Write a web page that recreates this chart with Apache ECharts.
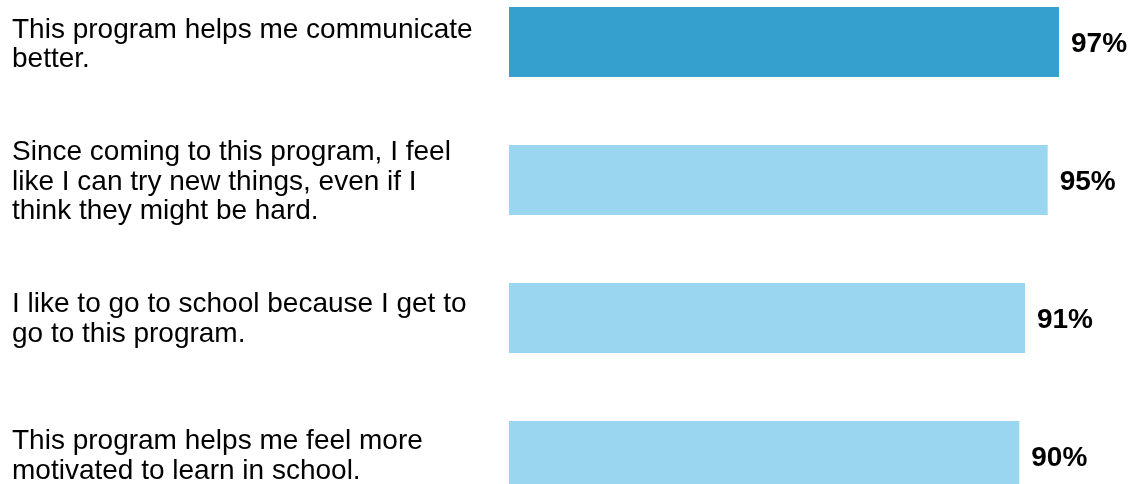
<!DOCTYPE html>
<html>
<head>
<meta charset="utf-8">
<style>html,body{margin:0;padding:0;background:#fff;overflow:hidden;width:1134px;height:484px;}#c{position:absolute;left:0;top:-27px;width:1134px;height:552px;}</style>
<script src="https://cdn.jsdelivr.net/npm/echarts@6/dist/echarts.min.js"></script>
</head>
<body>
<div id="c"></div>
<script>
const categories = [
  "This program helps me communicate\nbetter.",
  "Since coming to this program, I feel\nlike I can try new things, even if I\nthink they might be hard.",
  "I like to go to school because I get to\ngo to this program.",
  "This program helps me feel more\nmotivated to learn in school."
];
const values = [97, 95, 91, 90];
const barColors = ['#35A0CE', '#9BD6F1', '#9BD6F1', '#9BD6F1'];

const chart = echarts.init(document.getElementById('c'), null, {renderer: 'canvas'});
chart.setOption({
  backgroundColor: '#ffffff',
  animation: false,
  grid: [
    {left: 509, width: 567, top: 0, height: 552, containLabel: false},
    {left: 509, width: 567, top: 3, height: 552, containLabel: false}
  ],
  xAxis: [
    {type: 'value', min: 0, max: 100, show: false, gridIndex: 0},
    {type: 'value', min: 0, max: 100, show: false, gridIndex: 1}
  ],
  yAxis: [
    {
      type: 'category', data: categories, inverse: true, gridIndex: 0,
      axisLine: {show: false}, axisTick: {show: false}, splitLine: {show: false},
      axisLabel: {show: false}
    },
    {
      type: 'category', data: categories, inverse: true, gridIndex: 1,
      axisLine: {show: false}, axisTick: {show: false}, splitLine: {show: false},
      axisLabel: {
        align: 'left', margin: 497, color: '#000',
        fontFamily: 'Liberation Sans, Arial, sans-serif', fontSize: 28, lineHeight: 29.5
      }
    }
  ],
  series: [{
    type: 'bar', barWidth: 70, xAxisIndex: 0, yAxisIndex: 0,
    data: values.map((v, i) => ({value: v, itemStyle: {color: barColors[i]}})),
    label: {
      show: true, position: 'right', distance: 12, formatter: '{c}%', offset: [0, 2],
      color: '#000', fontWeight: 'bold', fontSize: 28,
      fontFamily: 'Liberation Sans, Arial, sans-serif'
    }
  }]
});
</script>
</body>
</html>
